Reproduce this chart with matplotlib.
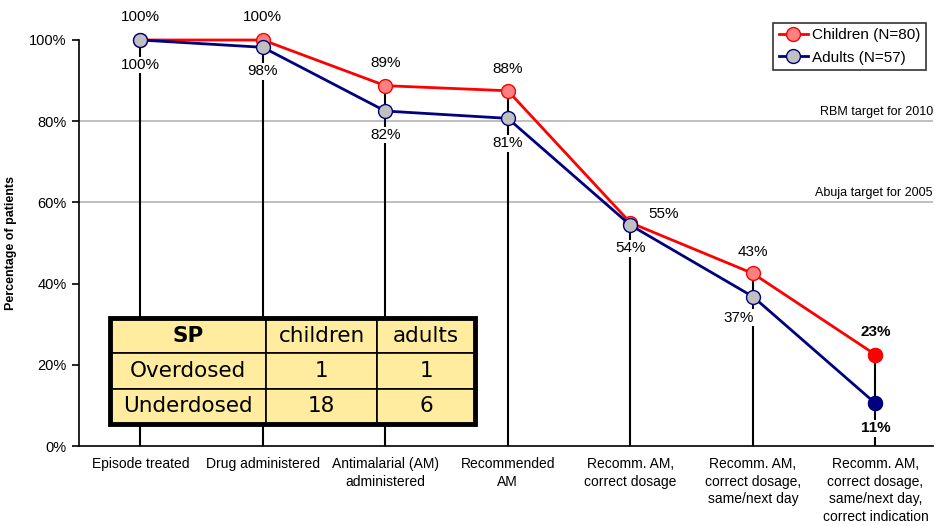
import numpy as np
import matplotlib.pyplot as plt
from matplotlib.patches import Rectangle

# categorias no eixo x
steps = ['Episode treated', 'Drug administered', 'Antimalarial (AM)\nadministered',
         'Recommended\nAM', 'Recomm. AM,\ncorrect dosage',
         'Recomm. AM,\ncorrect dosage,\nsame/next day',
         'Recomm. AM,\ncorrect dosage,\nsame/next day,\ncorrect indication']

# percentuais (crianças N=80, adultos N=57)
children = [100, 100, 88.75, 87.5, 55.0, 42.5, 22.5]
adults = [100, 98.2, 82.5, 80.7, 54.4, 36.8, 10.5]
children_lbl = ['100%', '100%', '89%', '88%', '55%', '43%', '23%']
adults_lbl = ['100%', '98%', '82%', '81%', '54%', '37%', '11%']

# metas
targets = [80, 60]
target_lbl = ['RBM target for 2010', 'Abuja target for 2005']

# tabela SP
tab_header = ['SP', 'children', 'adults']
tab_rows = [['Overdosed', '1', '1'], ['Underdosed', '18', '6']]

plt.rcParams['font.family'] = ['Liberation Sans', 'DejaVu Sans']

fig = plt.figure(figsize=(9.35, 5.26), dpi=100)
ax = fig.add_axes([79/935, 80/526, 854/935, 406/526])

x = np.arange(len(steps))
red = '#ff0000'
navy = '#000080'

# linhas verticais
ax.vlines(x, 0, children, color='black', lw=1.5, zorder=1)

# linhas de meta
for t, s in zip(targets, target_lbl):
    ax.axhline(t, color='#b4b4b4', lw=1.2, zorder=0)
    ax.text(6.47, t + 0.8, s, ha='right', va='bottom', fontsize=9)

ax.plot(x, children, '-o', color=red, lw=2, ms=10, mfc='#ff8080', mec=red,
        label='Children (N=80)', zorder=3, clip_on=False)
ax.plot(x, adults, '-o', color=navy, lw=2, ms=10, mfc='#c0c0c0', mec=navy,
        label='Adults (N=57)', zorder=3, clip_on=False)
# últimos pontos cheios
ax.plot(x[-1], children[-1], 'o', ms=10, color=red, zorder=4)
ax.plot(x[-1], adults[-1], 'o', ms=10, color=navy, zorder=4)

box = dict(facecolor='white', edgecolor='none', pad=1)
c_off = [(0, 23), (0, 23), (0, 23), (0, 22), (33, 9), (0, 21), (0, 23)]
a_off = [(0, -25), (0, -24), (0, -24), (0, -25), (0, -23), (-14, -21), (0, -25)]
for i in range(len(steps)):
    w = 'bold' if i == len(steps) - 1 else 'normal'
    ax.annotate(children_lbl[i], (x[i], children[i]), xytext=c_off[i],
                textcoords='offset pixels', ha='center', va='center',
                fontsize=11, fontweight=w, bbox=box, zorder=5, annotation_clip=False)
    ax.annotate(adults_lbl[i], (x[i], adults[i]), xytext=a_off[i],
                textcoords='offset pixels', ha='center', va='center',
                fontsize=11, fontweight=w, bbox=box, zorder=5, annotation_clip=False)

ax.set_xlim(-0.5, 6.47)
ax.set_ylim(0, 100)
ax.set_xticks(x)
ax.set_xticklabels(steps, fontsize=10, linespacing=1.32)
ax.tick_params(axis='x', length=0, pad=8)
ax.set_yticks(np.arange(0, 101, 20))
ax.set_yticklabels(['%d%%' % v for v in range(0, 101, 20)], fontsize=10.5)
ax.tick_params(axis='y', length=5, width=1.2, pad=4)
ax.set_ylabel('Percentage of patients', fontsize=9, fontweight='bold', labelpad=0)
ax.yaxis.set_label_coords(-62/854, 0.5)
for s in ['top', 'right']:
    ax.spines[s].set_visible(False)
ax.spines['left'].set_linewidth(1.2)
ax.spines['bottom'].set_linewidth(1.2)

leg = ax.legend(loc='upper right', bbox_to_anchor=(926/935, 1 - 23/526),
                bbox_transform=fig.transFigure, fontsize=11, frameon=True,
                fancybox=False, edgecolor='black', handlelength=1.9,
                borderpad=0.35, labelspacing=0.55, handletextpad=0.3, borderaxespad=0)
leg.get_frame().set_linewidth(1.2)

# tabela
tb_l, tb_b = (110 - 79) / 854, (446 - 424) / 406
tb_w, tb_h = 365 / 854, 106 / 406
tbl = ax.table(cellText=[tab_header] + tab_rows, cellLoc='center',
               colWidths=[156/365, 111/365, 98/365],
               bbox=[tb_l, tb_b, tb_w, tb_h], zorder=6)
tbl.auto_set_font_size(False)
for (r, c), cell in tbl.get_celld().items():
    cell.set_facecolor('#ffec9e')
    cell.set_edgecolor('black')
    cell.set_linewidth(1.2)
    cell.get_text().set_fontsize(15.5)
    cell.get_text().set_fontfamily('DejaVu Sans')
    if r == 0 and c == 0:
        cell.get_text().set_fontweight('bold')
ax.add_patch(Rectangle((tb_l, tb_b), tb_w, tb_h, transform=ax.transAxes,
                       fill=False, lw=3.5, edgecolor='black', zorder=7, clip_on=False))

plt.savefig('out.png', dpi=100)
